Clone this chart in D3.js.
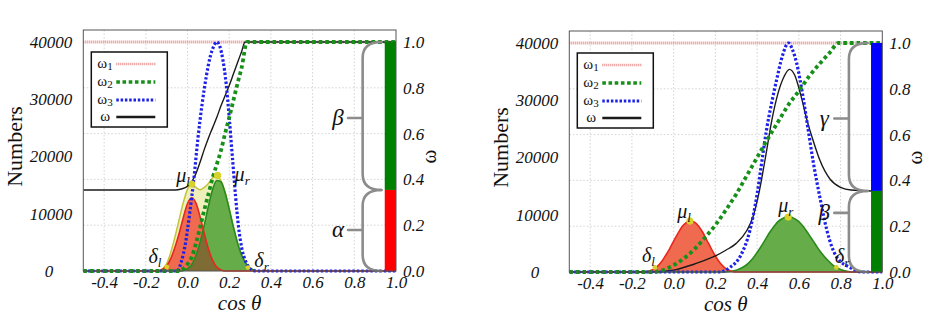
<!DOCTYPE html>
<html><head><meta charset="utf-8">
<script src="https://cdn.jsdelivr.net/npm/d3@7"></script>
<style>
body{margin:0;background:#fff;}
</style></head><body>
<svg id="c" width="944" height="319"></svg>
<script>
// ---------- axis ticks ----------
const xTickValues = [-0.4, -0.2, 0.0, 0.2, 0.4, 0.6, 0.8, 1.0];
const xTickLabels = ["-0.4", "-0.2", "0.0", "0.2", "0.4", "0.6", "0.8", "1.0"];
const countTickValues = [0, 10000, 20000, 30000, 40000];
const countTickLabels = ["0", "10000", "20000", "30000", "40000"];
const omegaTickValues = [0, 0.2, 0.4, 0.6, 0.8, 1.0];
const omegaTickLabels = ["0.0", "0.2", "0.4", "0.6", "0.8", "1.0"];
const legendNames = [["ω", "1"], ["ω", "2"], ["ω", "3"], ["ω", ""]];

// ---------- left panel data ----------
const leftGaussX = [-0.5, -0.16, -0.14, -0.12, -0.10, -0.08, -0.06, -0.04, -0.02, 0.00, 0.02, 0.04, 0.06, 0.08, 0.10, 0.12, 0.14, 0.16, 0.18, 0.20, 0.22, 0.24, 0.26, 0.28, 0.30, 0.32, 0.34, 0.36, 1.0];
const leftRedCounts = [0, 0, 0, 300, 900, 2200, 4200, 6600, 9400, 11800, 12800, 11900, 9500, 6600, 3900, 1900, 700, 200, 0, 0, 0, 0, 0, 0, 0, 0, 0, 0, 0];
const leftGreenCounts = [0, 0, 0, 0, 0, 0, 0, 0, 100, 400, 1100, 2700, 5000, 8000, 11300, 14200, 15800, 15600, 13700, 10800, 7700, 4900, 2700, 1300, 500, 150, 0, 0, 0];
const leftEnvelopeCounts = [0, 0, 0, 400, 1300, 3300, 6000, 9000, 12000, 14300, 15200, 14600, 14200, 14600, 15300, 16300, 16700, 15800, 13800, 10800, 7700, 4900, 2700, 1300, 500, 150, 0, 0, 0];

const leftW1X = [-0.5, 1.0];
const leftW1 = [1.0, 1.0];
const leftW2X = [-0.5, -0.04, -0.02, 0.0, 0.02, 0.04, 0.06, 0.08, 0.10, 0.12, 0.14, 0.16, 0.18, 0.20, 0.22, 0.24, 0.26, 0.285, 1.0];
const leftW2 = [0, 0, 0.01, 0.03, 0.06, 0.12, 0.19, 0.265, 0.335, 0.405, 0.465, 0.525, 0.60, 0.67, 0.745, 0.82, 0.89, 1.0, 1.0];
const leftW3X = [-0.5, -0.05, -0.03, -0.01, 0.01, 0.03, 0.05, 0.07, 0.09, 0.11, 0.125, 0.14, 0.155, 0.17, 0.185, 0.20, 0.215, 0.23, 0.245, 0.26, 0.28, 0.30, 0.33, 1.0];
const leftW3 = [0, 0, 0.04, 0.12, 0.25, 0.40, 0.58, 0.73, 0.85, 0.94, 0.98, 1.0, 0.98, 0.92, 0.82, 0.67, 0.50, 0.33, 0.19, 0.10, 0.04, 0.01, 0, 0];
const leftWX = [-0.5, -0.06, -0.03, 0.0, 0.02, 0.04, 0.06, 0.08, 0.10, 0.12, 0.14, 0.16, 0.18, 0.20, 0.22, 0.24, 0.26, 0.276, 1.0];
const leftW = [0.354, 0.354, 0.358, 0.37, 0.39, 0.425, 0.475, 0.53, 0.58, 0.625, 0.67, 0.72, 0.765, 0.81, 0.86, 0.91, 0.96, 1.0, 1.0];

const leftLabels = [["μ", "l", -0.021, 15600], ["μ", "r", 0.262, 15800], ["δ", "l", -0.156, 1350], ["δ", "r", 0.355, 750]];
const leftMarkers = [[0.02, 15200], [0.144, 16700], [-0.10, 700], [0.29, 600]];
const leftBraces = [["β", 1.0, 0.354, 0.668], ["α", 0.354, 0.0, 0.179]];
const leftBar = [[0.354, 1.0, "g"], [0.0, 0.354, "r"]];

// ---------- right panel data ----------
const rightRedX = [-0.5, -0.14, -0.12, -0.10, -0.08, -0.06, -0.04, -0.02, 0.00, 0.02, 0.04, 0.06, 0.08, 0.10, 0.12, 0.14, 0.16, 0.18, 0.20, 0.22, 0.24, 0.26, 0.28, 0.30, 1.0];
const rightRedCounts = [0, 0, 150, 400, 900, 1700, 2800, 4000, 5400, 6700, 7900, 8600, 8900, 8700, 8000, 6900, 5500, 4100, 2800, 1700, 900, 400, 100, 0, 0];
const rightGreenX = [-0.5, 0.24, 0.26, 0.28, 0.30, 0.32, 0.34, 0.36, 0.38, 0.40, 0.42, 0.44, 0.46, 0.48, 0.50, 0.52, 0.54, 0.56, 0.58, 0.60, 0.62, 0.64, 0.66, 0.68, 0.70, 0.72, 0.74, 0.76, 0.78, 0.80, 0.82, 0.84, 0.86, 1.0];
const rightGreenCounts = [0, 0, 50, 150, 300, 600, 1000, 1600, 2400, 3400, 4500, 5700, 6900, 7900, 8800, 9300, 9600, 9600, 9300, 8800, 8000, 7000, 5900, 4800, 3700, 2800, 2000, 1300, 800, 450, 200, 80, 0, 0];

const rightW1X = [-0.5, 1.0];
const rightW1 = [1.0, 1.0];
const rightW2X = [-0.5, -0.1, -0.05, 0.0, 0.05, 0.1, 0.15, 0.2, 0.25, 0.3, 0.35, 0.4, 0.45, 0.5, 0.55, 0.6, 0.65, 0.7, 0.75, 0.79, 1.0];
const rightW2 = [0, 0, 0.008, 0.03, 0.06, 0.10, 0.15, 0.205, 0.27, 0.34, 0.42, 0.50, 0.58, 0.655, 0.73, 0.79, 0.855, 0.91, 0.96, 1.0, 1.0];
const rightW3X = [-0.5, 0.22, 0.27, 0.32, 0.365, 0.40, 0.42, 0.445, 0.47, 0.495, 0.52, 0.55, 0.57, 0.59, 0.62, 0.645, 0.67, 0.70, 0.735, 0.78, 0.845, 0.90, 1.0];
const rightW3 = [0, 0, 0.02, 0.07, 0.18, 0.34, 0.465, 0.62, 0.74, 0.845, 0.94, 1.0, 0.97, 0.91, 0.765, 0.62, 0.475, 0.33, 0.18, 0.067, 0.02, 0, 0];
const rightWX = [-0.5, -0.1, 0.0, 0.1, 0.2, 0.25, 0.3, 0.35, 0.38, 0.41, 0.44, 0.47, 0.50, 0.53, 0.555, 0.58, 0.61, 0.64, 0.67, 0.70, 0.75, 0.80, 0.85, 0.95];
const rightW = [0, 0, 0.008, 0.035, 0.07, 0.095, 0.125, 0.18, 0.24, 0.35, 0.50, 0.66, 0.78, 0.855, 0.885, 0.86, 0.77, 0.66, 0.57, 0.49, 0.405, 0.37, 0.358, 0.354];

const rightLabels = [["μ", "l", 0.05, 9400], ["μ", "r", 0.537, 10500], ["δ", "l", -0.121, 1800], ["δ", "r", 0.808, 1500]];
const rightMarkers = [[0.078, 8900], [0.549, 9600], [-0.09, 800], [0.78, 800]];
const rightBraces = [["γ", 1.0, 0.354, 0.67], ["β", 0.354, 0.0, 0.258]];
const rightBar = [[0.354, 1.0, "b"], [0.0, 0.354, "g"]];

// ---------- styles / layout ----------
const FONT = "Liberation Serif";
const barColors = {g: "#008000", r: "#ff0000", b: "#0000ff"};
const C = {
  redFill: "#f06a50", redLine: "#e8281c",
  greenFill: "#66ad4a", greenLine: "#2a8a1c",
  overlap: "#7e6c34", envFill: "#efefbc", envLine: "#c4c43a",
  marker: "#d8d22a",
  w1: "#e88a8a", w2: "#17901a", w3: "#1e22e6", w: "#1a1a1a",
  brace: "#8c8c8c", grid: "#c8c8c8", frame: "#555"
};
const barStart = 0.946;

const svg = d3.select("#c");

const panels = [
  {x0: 83.3, x1: 396, yt: 42, yb: 271},
  {x0: 569.3, x1: 882.3, yt: 43, yb: 272}
];
const panelData = [
  {
    red: [leftGaussX, leftRedCounts], green: [leftGaussX, leftGreenCounts], env: [leftGaussX, leftEnvelopeCounts],
    w1: [leftW1X, leftW1], w2: [leftW2X, leftW2], w3: [leftW3X, leftW3], w: [leftWX, leftW],
    labels: leftLabels, markers: leftMarkers, braces: leftBraces, bar: leftBar
  },
  {
    red: [rightRedX, rightRedCounts], green: [rightGreenX, rightGreenCounts], env: null,
    w1: [rightW1X, rightW1], w2: [rightW2X, rightW2], w3: [rightW3X, rightW3], w: [rightWX, rightW],
    labels: rightLabels, markers: rightMarkers, braces: rightBraces, bar: rightBar
  }
];

const zip = (xs, ys) => xs.map((x, i) => [x, ys[i]]);

panels.forEach((p, pi) => {
  const D = panelData[pi];
  const g = svg.append("g").attr("font-family", FONT);
  const x = d3.scaleLinear().domain([-0.5, 1.0]).range([p.x0, p.x1]);
  const w = d3.scaleLinear().domain([0, 1]).range([p.yb, p.yt]);
  const n = d3.scaleLinear().domain([0, 40000]).range([p.yb, p.yt]);
  const top = p.yt - 12;

  // grid
  g.append("g").selectAll("line").data(xTickValues.filter(v => v < 1)).join("line")
    .attr("x1", d => x(d)).attr("x2", d => x(d)).attr("y1", top).attr("y2", p.yb)
    .attr("stroke", C.grid).attr("stroke-width", 0.8).attr("stroke-dasharray", "1.5,2");
  g.append("g").selectAll("line").data(omegaTickValues.filter(v => v > 0 && v < 1)).join("line")
    .attr("x1", p.x0).attr("x2", p.x1).attr("y1", d => w(d)).attr("y2", d => w(d))
    .attr("stroke", C.grid).attr("stroke-width", 0.8).attr("stroke-dasharray", "1.5,2");

  const clipId = "clipPlot" + pi;
  g.append("clipPath").attr("id", clipId).append("rect")
    .attr("x", p.x0).attr("y", top).attr("width", p.x1 - p.x0).attr("height", p.yb - top + 2);
  const plot = g.append("g").attr("clip-path", `url(#${clipId})`);

  const areaN = d3.area().x(d => x(d[0])).y0(p.yb).y1(d => n(d[1])).curve(d3.curveMonotoneX);
  const lineN = d3.line().x(d => x(d[0])).y(d => n(d[1])).curve(d3.curveMonotoneX);
  const lineW = d3.line().x(d => x(d[0])).y(d => w(d[1])).curve(d3.curveMonotoneX);

  const red = zip(D.red[0], D.red[1]);
  const green = zip(D.green[0], D.green[1]);

  if (D.env) {
    const env = zip(D.env[0], D.env[1]);
    plot.append("path").attr("d", areaN(env)).attr("fill", C.envFill);
    plot.append("path").attr("d", lineN(env)).attr("fill", "none").attr("stroke", C.envLine).attr("stroke-width", 1.5);
  }
  plot.append("path").attr("d", areaN(green)).attr("fill", C.greenFill);
  plot.append("path").attr("d", areaN(red)).attr("fill", C.redFill);
  const ovId = "ov" + pi;
  g.append("clipPath").attr("id", ovId).append("path").attr("d", areaN(green));
  plot.append("g").attr("clip-path", `url(#${ovId})`)
    .append("path").attr("d", areaN(red)).attr("fill", C.overlap);
  plot.append("path").attr("d", lineN(green)).attr("fill", "none").attr("stroke", C.greenLine).attr("stroke-width", 1.6);
  plot.append("path").attr("d", lineN(red)).attr("fill", "none").attr("stroke", C.redLine).attr("stroke-width", 1.6);

  // omega curves
  plot.append("path").attr("d", lineW(zip(D.w1[0], D.w1[1]))).attr("fill", "none")
    .attr("stroke", C.w1).attr("stroke-width", 3).attr("stroke-dasharray", "1,1");
  plot.append("path").attr("d", lineW(zip(D.w[0], D.w[1]))).attr("fill", "none")
    .attr("stroke", C.w).attr("stroke-width", 1.4);
  plot.append("path").attr("d", lineW(zip(D.w3[0], D.w3[1]))).attr("fill", "none")
    .attr("stroke", C.w3).attr("stroke-width", 3.2).attr("stroke-dasharray", "2.5,2");
  plot.append("path").attr("d", lineW(zip(D.w2[0], D.w2[1]))).attr("fill", "none")
    .attr("stroke", C.w2).attr("stroke-width", 3.8).attr("stroke-dasharray", "3.6,3");

  // markers
  plot.append("g").selectAll("circle").data(D.markers).join("circle")
    .attr("cx", d => x(d[0])).attr("cy", d => n(d[1])).attr("r", (d, i) => i < 2 ? 3.6 : 2.4)
    .attr("fill", C.marker);

  // colour bar
  g.append("g").selectAll("rect").data(D.bar).join("rect")
    .attr("x", x(barStart)).attr("width", x(1.0) - x(barStart))
    .attr("y", d => w(d[1])).attr("height", d => w(d[0]) - w(d[1]))
    .attr("fill", d => barColors[d[2]]);

  // braces
  const xv = x(0.84), xc = x(0.93), xt = x(0.77), xl = x(0.722);
  D.braces.forEach(b => {
    const y1 = w(b[1]), y2 = w(b[2]), yt = w(b[3]), r = 16;
    const path = `M${xc},${y1} Q${xv},${y1} ${xv},${y1 + r} L${xv},${y2 - r} Q${xv},${y2} ${xc},${y2} M${xv},${yt} L${xt},${yt}`;
    g.append("path").attr("d", path).attr("fill", "none").attr("stroke", C.brace)
      .attr("stroke-width", 2.6).attr("stroke-linecap", "round");
    g.append("text").attr("x", xl).attr("y", yt).attr("dy", "0.32em").attr("text-anchor", "middle")
      .attr("font-family", FONT).attr("font-size", 23).attr("font-style", "italic").attr("fill", "#111").text(b[0]);
  });

  // peak labels
  D.labels.forEach(l => {
    const t = g.append("text").attr("x", x(l[2])).attr("y", n(l[3])).attr("text-anchor", "middle")
      .attr("font-family", FONT).attr("font-style", "italic").attr("font-size", 20).attr("fill", "#111");
    t.append("tspan").text(l[0]);
    t.append("tspan").attr("font-size", 13).attr("dy", 4).text(l[1]);
  });

  // frame
  g.append("rect").attr("x", p.x0).attr("y", top).attr("width", p.x1 - p.x0).attr("height", p.yb - top)
    .attr("fill", "none").attr("stroke", C.frame).attr("stroke-width", 1);

  // axes
  const ax = g.append("g").attr("transform", `translate(0,${p.yb})`)
    .call(d3.axisBottom(x).tickValues(xTickValues).tickFormat((d, i) => xTickLabels[i]).tickSize(0).tickPadding(5));
  const ay = g.append("g").attr("transform", `translate(${p.x0},0)`)
    .call(d3.axisLeft(n).tickValues(countTickValues).tickFormat((d, i) => countTickLabels[i]).tickSize(0).tickPadding(11));
  const ar = g.append("g").attr("transform", `translate(${p.x1},0)`)
    .call(d3.axisRight(w).tickValues(omegaTickValues).tickFormat((d, i) => omegaTickLabels[i]).tickSize(0).tickPadding(7));
  [ax, ay, ar].forEach(a => {
    a.attr("font-family", FONT);
    a.select(".domain").remove();
    a.selectAll("text").attr("font-family", FONT).attr("font-style", "italic")
      .attr("font-size", 17).attr("fill", "#111");
  });
  // the "0" count label sits further left in the original figure
  ay.selectAll(".tick").filter(d => d === 0).select("text").attr("x", -30);

  // axis titles
  g.append("text").attr("transform", `translate(${p.x0 - 61},${(p.yt + p.yb) / 2 - 10}) rotate(-90)`)
    .attr("font-family", FONT).attr("text-anchor", "middle").attr("font-size", 22).attr("fill", "#111").text("Numbers");
  g.append("text").attr("transform", `translate(${p.x1 + 40},${(p.yt + p.yb) / 2}) rotate(-90)`)
    .attr("font-family", FONT).attr("text-anchor", "middle").attr("font-size", 21).attr("fill", "#111").text("ω");
  g.append("text").attr("x", (p.x0 + p.x1) / 2).attr("y", p.yb + 39).attr("text-anchor", "middle")
    .attr("font-family", FONT).attr("font-size", 21).attr("font-style", "italic").attr("fill", "#111").text("cos θ");

  // legend
  const lg = g.append("g").attr("transform", `translate(${p.x0 + 8},${p.yt + 10})`);
  lg.append("rect").attr("width", 76).attr("height", 75).attr("fill", "#fff")
    .attr("stroke", "#111").attr("stroke-width", 1.5);
  const rows = [12, 30, 48, 65];
  const ls = [
    {c: C.w1, wd: 2.6, da: "1,1"},
    {c: C.w2, wd: 3.6, da: "3.6,2.6"},
    {c: C.w3, wd: 3, da: "2.5,1.8"},
    {c: C.w, wd: 2.6, da: null}
  ];
  legendNames.forEach((nm, i) => {
    const t = lg.append("text").attr("x", nm[1] ? 6 : 9).attr("y", rows[i] + 4)
      .attr("font-family", FONT).attr("font-size", 15).attr("fill", "#111");
    t.append("tspan").text(nm[0]);
    if (nm[1]) t.append("tspan").attr("font-size", 11).attr("dy", 2).text(nm[1]);
    lg.append("line").attr("x1", 25).attr("x2", 64).attr("y1", rows[i]).attr("y2", rows[i])
      .attr("stroke", ls[i].c).attr("stroke-width", ls[i].wd)
      .attr("stroke-dasharray", ls[i].da);
  });
});
</script></body></html>
